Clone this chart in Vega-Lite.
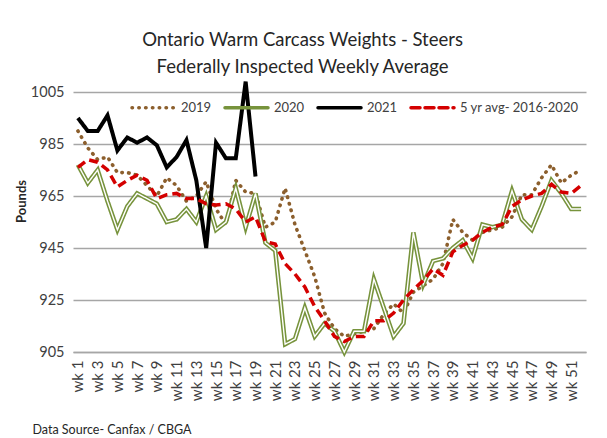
{
"$schema":"https://vega.github.io/schema/vega-lite/v6.json",
"width":513,"height":260,
"autosize":{"type":"none"},
"padding":{"left":73,"top":92,"right":21,"bottom":86},
"background":"white",
"config":{"font":"Lato","view":{"stroke":null},
 "axis":{"labelFont":"Lato","titleFont":"Lato","labelColor":"#404040","titleColor":"#404040"},
 "title":{"font":"Lato"}},
"title":{"text":["Ontario Warm Carcass Weights - Steers","Federally Inspected Weekly Average"],"fontSize":18.5,"fontWeight":"normal","color":"#262626","lineHeight":27,"anchor":"middle","frame":"bounds","offset":-3},
"data":{"values":[
{"series":"2019","week":1,"value":990},{"series":"2019","week":2,"value":983.5},{"series":"2019","week":3,"value":979},{"series":"2019","week":4,"value":980},{"series":"2019","week":5,"value":974},{"series":"2019","week":6,"value":974},{"series":"2019","week":7,"value":973},{"series":"2019","week":8,"value":969},{"series":"2019","week":9,"value":965},{"series":"2019","week":10,"value":972},
{"series":"2019","week":11,"value":969},{"series":"2019","week":12,"value":963},{"series":"2019","week":13,"value":965},{"series":"2019","week":14,"value":970.5},{"series":"2019","week":15,"value":960},{"series":"2019","week":16,"value":954},{"series":"2019","week":17,"value":971},{"series":"2019","week":18,"value":966.5},{"series":"2019","week":19,"value":966},{"series":"2019","week":20,"value":953},
{"series":"2019","week":21,"value":955},{"series":"2019","week":22,"value":968},{"series":"2019","week":23,"value":954},{"series":"2019","week":24,"value":944},{"series":"2019","week":25,"value":934},{"series":"2019","week":26,"value":920},{"series":"2019","week":27,"value":914},{"series":"2019","week":28,"value":911},{"series":"2019","week":29,"value":912},{"series":"2019","week":30,"value":913},
{"series":"2019","week":31,"value":914},{"series":"2019","week":32,"value":919.5},{"series":"2019","week":33,"value":923.5},{"series":"2019","week":34,"value":920},{"series":"2019","week":35,"value":928},{"series":"2019","week":36,"value":930.5},{"series":"2019","week":37,"value":933},{"series":"2019","week":38,"value":939},{"series":"2019","week":39,"value":956},{"series":"2019","week":40,"value":951},
{"series":"2019","week":41,"value":948},{"series":"2019","week":42,"value":951},{"series":"2019","week":43,"value":952},{"series":"2019","week":44,"value":953},{"series":"2019","week":45,"value":957},{"series":"2019","week":46,"value":965.5},{"series":"2019","week":47,"value":965.5},{"series":"2019","week":48,"value":972},{"series":"2019","week":49,"value":977},{"series":"2019","week":50,"value":970},
{"series":"2019","week":51,"value":973},{"series":"2019","week":52,"value":975},
{"series":"2020","week":1,"value":977},{"series":"2020","week":2,"value":970},{"series":"2020","week":3,"value":975},{"series":"2020","week":4,"value":963},{"series":"2020","week":5,"value":952},{"series":"2020","week":6,"value":961},{"series":"2020","week":7,"value":966},{"series":"2020","week":8,"value":964},{"series":"2020","week":9,"value":962},{"series":"2020","week":10,"value":955},
{"series":"2020","week":11,"value":956},{"series":"2020","week":12,"value":960},{"series":"2020","week":13,"value":955},{"series":"2020","week":14,"value":965},{"series":"2020","week":15,"value":952},{"series":"2020","week":16,"value":955},{"series":"2020","week":17,"value":968},{"series":"2020","week":18,"value":953},{"series":"2020","week":19,"value":966},{"series":"2020","week":20,"value":947},
{"series":"2020","week":21,"value":944},{"series":"2020","week":22,"value":908},{"series":"2020","week":23,"value":910},{"series":"2020","week":24,"value":922},{"series":"2020","week":25,"value":911},{"series":"2020","week":26,"value":916},{"series":"2020","week":27,"value":913},{"series":"2020","week":28,"value":905},{"series":"2020","week":29,"value":913},{"series":"2020","week":30,"value":913},
{"series":"2020","week":31,"value":933},{"series":"2020","week":32,"value":922},{"series":"2020","week":33,"value":911},{"series":"2020","week":34,"value":916},{"series":"2020","week":35,"value":951},{"series":"2020","week":36,"value":931},{"series":"2020","week":37,"value":940},{"series":"2020","week":38,"value":941},{"series":"2020","week":39,"value":945},{"series":"2020","week":40,"value":948},
{"series":"2020","week":41,"value":941},{"series":"2020","week":42,"value":954},{"series":"2020","week":43,"value":953},{"series":"2020","week":44,"value":954},{"series":"2020","week":45,"value":967},{"series":"2020","week":46,"value":956},{"series":"2020","week":47,"value":952},{"series":"2020","week":48,"value":961},{"series":"2020","week":49,"value":971},{"series":"2020","week":50,"value":966},
{"series":"2020","week":51,"value":960},{"series":"2020","week":52,"value":960},
{"series":"2021","week":1,"value":995},{"series":"2021","week":2,"value":990},{"series":"2021","week":3,"value":990},{"series":"2021","week":4,"value":996},{"series":"2021","week":5,"value":982.5},{"series":"2021","week":6,"value":987.5},{"series":"2021","week":7,"value":985.5},{"series":"2021","week":8,"value":987.5},{"series":"2021","week":9,"value":984.5},{"series":"2021","week":10,"value":976},
{"series":"2021","week":11,"value":980},{"series":"2021","week":12,"value":986.5},{"series":"2021","week":13,"value":971},{"series":"2021","week":14,"value":945},{"series":"2021","week":15,"value":985.5},{"series":"2021","week":16,"value":979.5},{"series":"2021","week":17,"value":979.5},{"series":"2021","week":18,"value":1009},{"series":"2021","week":19,"value":972.5},
{"series":"5 yr avg- 2016-2020","week":1,"value":976},{"series":"5 yr avg- 2016-2020","week":2,"value":979},{"series":"5 yr avg- 2016-2020","week":3,"value":978},{"series":"5 yr avg- 2016-2020","week":4,"value":975},{"series":"5 yr avg- 2016-2020","week":5,"value":968.5},{"series":"5 yr avg- 2016-2020","week":6,"value":971},{"series":"5 yr avg- 2016-2020","week":7,"value":973},{"series":"5 yr avg- 2016-2020","week":8,"value":971},{"series":"5 yr avg- 2016-2020","week":9,"value":964},{"series":"5 yr avg- 2016-2020","week":10,"value":965.5},
{"series":"5 yr avg- 2016-2020","week":11,"value":966},{"series":"5 yr avg- 2016-2020","week":12,"value":964},{"series":"5 yr avg- 2016-2020","week":13,"value":964},{"series":"5 yr avg- 2016-2020","week":14,"value":962},{"series":"5 yr avg- 2016-2020","week":15,"value":961.5},{"series":"5 yr avg- 2016-2020","week":16,"value":962},{"series":"5 yr avg- 2016-2020","week":17,"value":960},{"series":"5 yr avg- 2016-2020","week":18,"value":955},{"series":"5 yr avg- 2016-2020","week":19,"value":957},{"series":"5 yr avg- 2016-2020","week":20,"value":947.5},
{"series":"5 yr avg- 2016-2020","week":21,"value":946.5},{"series":"5 yr avg- 2016-2020","week":22,"value":939},{"series":"5 yr avg- 2016-2020","week":23,"value":935},{"series":"5 yr avg- 2016-2020","week":24,"value":930},{"series":"5 yr avg- 2016-2020","week":25,"value":922.5},{"series":"5 yr avg- 2016-2020","week":26,"value":917},{"series":"5 yr avg- 2016-2020","week":27,"value":911},{"series":"5 yr avg- 2016-2020","week":28,"value":909},{"series":"5 yr avg- 2016-2020","week":29,"value":911},{"series":"5 yr avg- 2016-2020","week":30,"value":911},
{"series":"5 yr avg- 2016-2020","week":31,"value":917},{"series":"5 yr avg- 2016-2020","week":32,"value":917},{"series":"5 yr avg- 2016-2020","week":33,"value":920},{"series":"5 yr avg- 2016-2020","week":34,"value":925},{"series":"5 yr avg- 2016-2020","week":35,"value":929},{"series":"5 yr avg- 2016-2020","week":36,"value":932.5},{"series":"5 yr avg- 2016-2020","week":37,"value":937},{"series":"5 yr avg- 2016-2020","week":38,"value":934.5},{"series":"5 yr avg- 2016-2020","week":39,"value":943.5},{"series":"5 yr avg- 2016-2020","week":40,"value":946},
{"series":"5 yr avg- 2016-2020","week":41,"value":948},{"series":"5 yr avg- 2016-2020","week":42,"value":951},{"series":"5 yr avg- 2016-2020","week":43,"value":953},{"series":"5 yr avg- 2016-2020","week":44,"value":954},{"series":"5 yr avg- 2016-2020","week":45,"value":961},{"series":"5 yr avg- 2016-2020","week":46,"value":963.5},{"series":"5 yr avg- 2016-2020","week":47,"value":965},{"series":"5 yr avg- 2016-2020","week":48,"value":966},{"series":"5 yr avg- 2016-2020","week":49,"value":969.5},{"series":"5 yr avg- 2016-2020","week":50,"value":966.5},
{"series":"5 yr avg- 2016-2020","week":51,"value":966},{"series":"5 yr avg- 2016-2020","week":52,"value":969}
]},
"encoding":{
 "x":{"field":"week","type":"ordinal","scale":{"type":"point","padding":0.5},
  "axis":{"labelExpr":"datum.value % 2 == 1 ? 'wk ' + datum.value : ''","labelAngle":-90,"labelAlign":"right","labelBaseline":"middle","labelPadding":8,"labelFontSize":15,"ticks":false,"domainColor":"#A6A6A6","domainWidth":1.3,"grid":false,
   "title":"Data Source- Canfax / CBGA","titleFontSize":12.5,"titleFontWeight":"normal","titleColor":"#262626","titleAnchor":"start","titleAlign":"left","titleBaseline":"middle","titleX":-41,"titleY":77}},
 "y":{"field":"value","type":"quantitative","scale":{"domain":[905,1005],"nice":false,"zero":false},
  "axis":{"values":[905,925,945,965,985,1005],"format":"d","labelFontSize":14.5,"labelPadding":9,"ticks":false,"domain":false,"gridColor":"#A6A6A6","gridWidth":1.3,
   "title":"Pounds","titleFontSize":13,"titleFontWeight":"bold","titleColor":"#262626","titleX":-52,"titleY":109,"titleAlign":"center","titleBaseline":"middle"}},
 "color":{"field":"series","type":"nominal","scale":{"domain":["2019","2020","2021","5 yr avg- 2016-2020"],"range":["#8C5F2D","#77933C","#000000","#D40000"]},
  "legend":{"title":null,"orient":"none","legendX":57,"legendY":-8,"direction":"horizontal","symbolType":"stroke","symbolSize":1850,"symbolStrokeWidth":3.5,"labelFontSize":13,"labelColor":"#404040","labelOffset":4,"columnPadding":5,"padding":0,
   "encode":{"symbols":{"update":{"strokeCap":{"value":"round"}}}}}},
 "strokeDash":{"field":"series","type":"nominal","scale":{"domain":["2019","2020","2021","5 yr avg- 2016-2020"],"range":[[0.5,6.3],[1,0],[1,0],[9,5]]}}
},
"layer":[
 {"transform":[{"filter":"datum.series === '2019'"}],"mark":{"type":"line","strokeWidth":3.6,"strokeCap":"round","clip":false}},
 {"transform":[{"filter":"datum.series === '2020'"}],"mark":{"type":"line","strokeWidth":4.5,"clip":false}},
 {"transform":[{"filter":"datum.series === '2020'"}],"mark":{"type":"line","strokeWidth":1.4,"color":"white","clip":false},
  "encoding":{"color":{"value":"white"},"strokeDash":{"value":[1,0]}}},
 {"transform":[{"filter":"datum.series === '2021'"}],"mark":{"type":"line","strokeWidth":4,"clip":false}},
 {"transform":[{"filter":"datum.series === '5 yr avg- 2016-2020'"}],"mark":{"type":"line","strokeWidth":3.5,"clip":false}}
]
}
